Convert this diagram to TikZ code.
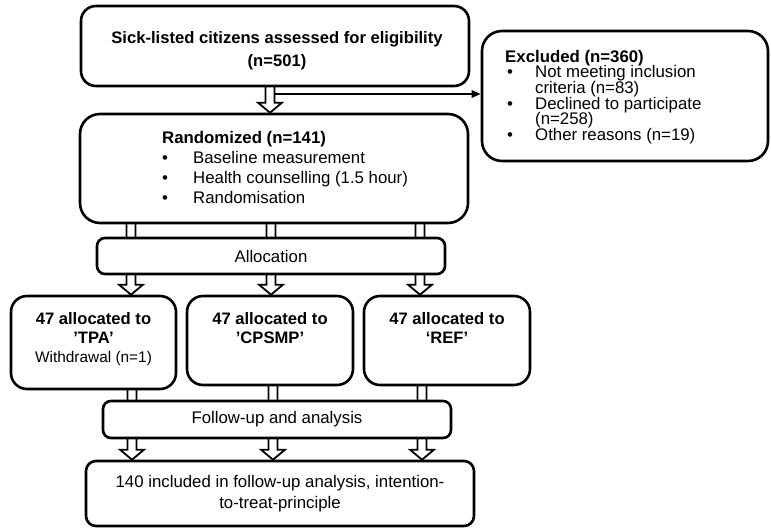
\documentclass[tikz,border=0pt]{standalone}
\usepackage{fontspec}
\setmainfont{Liberation Sans}
\usetikzlibrary{arrows.meta,calc,backgrounds}
\lineskiplimit=-20pt
\newcommand\hollowarr[3]{%
  \draw[harrow] let \p1=(#1 |- #2.south), \p2=(#1 |- #3.north) in
    (\x1-4.5bp,\y1+3bp) -- (\x1-4.5bp,\y2+10bp) -- (\x1-12bp,\y2+10bp) -- (\x1,\y2)
    -- (\x1+12bp,\y2+10bp) -- (\x1+4.5bp,\y2+10bp) -- (\x1+4.5bp,\y1+3bp) -- cycle;}
\begin{document}
\begin{tikzpicture}[x=1bp,y=-1bp,
  box/.style={draw, line width=2.6bp, fill=white, rounded corners=#1, inner sep=0pt},
  box/.default=15bp,
  harrow/.style={draw, line width=1.8bp, fill=white, line join=miter},
  thinarrow/.style={line width=1.3bp, -{Triangle[length=9bp,width=7.5bp]}},
  rg/.style={inner sep=0pt, font=\fontsize{16.8bp}{20bp}\selectfont},
  bd/.style={inner sep=0pt, font=\fontsize{16.6bp}{20bp}\selectfont\bfseries},
]
\useasboundingbox (0,0) rectangle (771,528);
% boxes
\node[box=15bp, minimum width=388bp, minimum height=80bp] (b1) at (275,46) {};
\node[box=20bp, minimum width=286bp, minimum height=130bp] (excl) at (625,96) {};
\node[box=20bp, minimum width=388bp, minimum height=109bp] (b2) at (274,168.5) {};
\node[box=8bp, minimum width=348bp, minimum height=36bp, rg] (alloc) at (271,256) {Allocation};
\node[box=16bp, minimum width=165bp, minimum height=93bp] (tpa) at (93.5,342.5) {};
\node[box=16bp, minimum width=166bp, minimum height=89bp] (cps) at (270,340.5) {};
\node[box=16bp, minimum width=166bp, minimum height=89bp] (ref) at (447,340.5) {};
\node[box=8bp, minimum width=348bp, minimum height=37bp, rg] (fu) at (277,419.5) {Follow-up and analysis};
\node[box=10bp, minimum width=388bp, minimum height=65bp, rg, align=center,
      font=\fontsize{16.8bp}{21bp}\selectfont] (fin) at (280,493.5)
      {140 included in follow-up analysis, intention-\\to-treat-principle};
% texts
\node[bd, align=center, anchor=north, font=\fontsize{16.6bp}{23bp}\selectfont\bfseries] (t1) at (277,31.5)
      {Sick-listed citizens assessed for eligibility\\(n=501)};
\node[rg, align=left, anchor=north west, font=\fontsize{16.8bp}{15.6bp}\selectfont] (t2) at (505,50)
      {\textbf{Excluded (n=360)}\\
       \hspace*{2bp}\makebox[28bp][l]{\textbullet}Not meeting inclusion\\
       \hspace*{30bp}criteria (n=83)\\
       \hspace*{2bp}\makebox[28bp][l]{\textbullet}Declined to participate\\
       \hspace*{30bp}(n=258)\\
       \hspace*{2bp}\makebox[28bp][l]{\textbullet}Other reasons (n=19)};
\node[rg, align=left, anchor=north west] (t3) at (162,131.5)
      {\textbf{Randomized (n=141)}\\
       \makebox[31bp][l]{\textbullet}Baseline measurement\\
       \makebox[31bp][l]{\textbullet}Health counselling (1.5 hour)\\
       \makebox[31bp][l]{\textbullet}Randomisation};
\node[bd, align=center, anchor=north, font=\fontsize{16.6bp}{19bp}\selectfont\bfseries] (t4) at (93.5,312.5)
      {47 allocated to\\’TPA’};
\node[inner sep=0pt, anchor=base, font=\fontsize{15.4bp}{18bp}\selectfont] (t5) at (93.5,362.5) {Withdrawal (n=1)};
\node[bd, align=center, anchor=north, font=\fontsize{16.6bp}{19bp}\selectfont\bfseries] (t6) at (270,312.5)
      {47 allocated to\\’CPSMP’};
\node[bd, align=center, anchor=north, font=\fontsize{16.6bp}{19bp}\selectfont\bfseries] (t7) at (447,312.5)
      {47 allocated to\\‘REF’};
% arrows
\coordinate (xm) at (270,0);
\coordinate (xa) at (131,0);
\coordinate (xb) at (271,0);
\coordinate (xc) at (420,0);
\coordinate (ya) at (132,0);
\coordinate (yb) at (273,0);
\coordinate (yc) at (422,0);
\begin{scope}[on background layer]
\hollowarr{xm}{b1}{b2}
\hollowarr{xa}{b2}{tpa}
\hollowarr{xb}{b2}{cps}
\hollowarr{xc}{b2}{ref}
\hollowarr{ya}{tpa}{fin}
\hollowarr{yb}{cps}{fin}
\hollowarr{yc}{ref}{fin}
\end{scope}
\coordinate (brk) at (275,94);
\draw[thinarrow] (brk) -- (brk -| excl.west);
\end{tikzpicture}
\end{document}
